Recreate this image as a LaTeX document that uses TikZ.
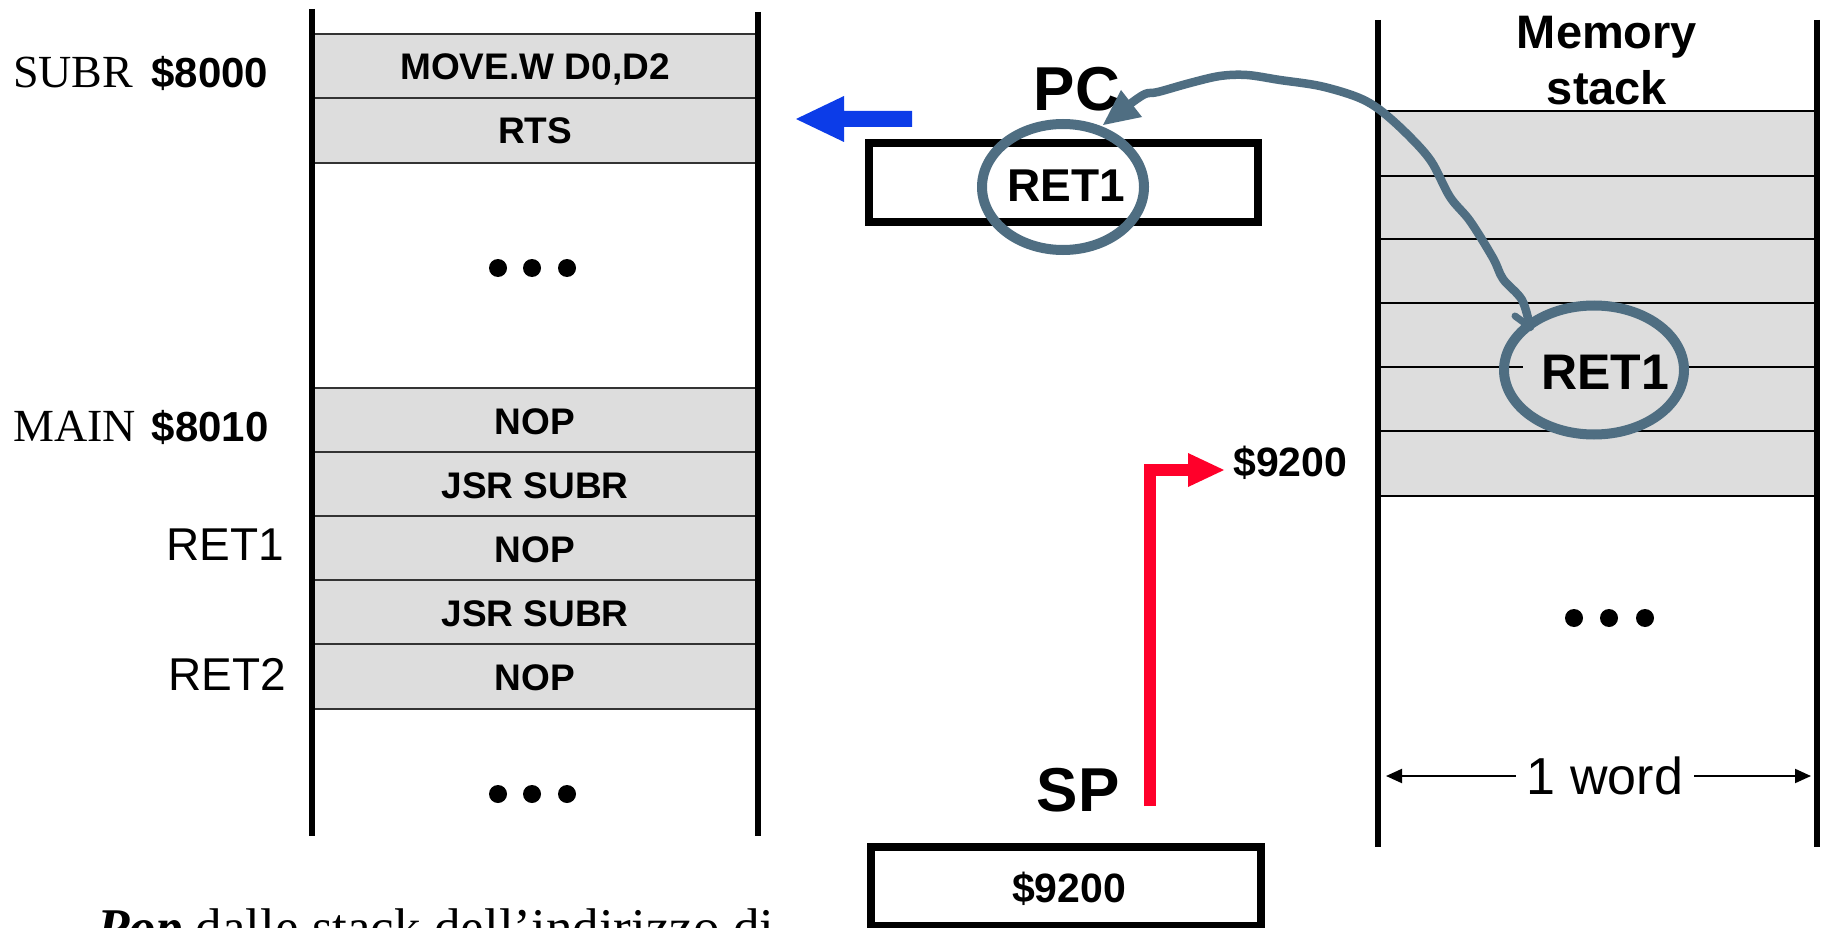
\documentclass[tikz,border=0pt]{standalone}
\usepackage{fontspec}
\setmainfont{Liberation Serif}
\setsansfont{Liberation Sans}
\newfontfamily\hv{Liberation Sans}
\usetikzlibrary{shapes.geometric,arrows.meta}
\definecolor{steel}{RGB}{79,110,130}
\definecolor{cellgray}{RGB}{221,221,221}
\definecolor{arrblue}{RGB}{12,60,232}
\definecolor{arrred}{RGB}{255,0,42}
\tikzset{
  cell/.style={font=\hv\bfseries\fontsize{37}{40}\selectfont, inner sep=0pt, anchor=base},
  side/.style={font=\hv\fontsize{46}{50}\selectfont, inner sep=0pt, anchor=base east},
  addr/.style={inner sep=0pt, anchor=base west},
  big/.style={font=\hv\bfseries\fontsize{62}{66}\selectfont, inner sep=0pt, anchor=base},
  regbox/.style={draw=black, line width=7.5pt, inner sep=0pt},
  rowsep/.style={line width=2pt, draw=black!80},
  wall/.style={line width=6.5pt, line cap=butt},
  ring/.style={ellipse, draw=steel, line width=10pt, inner sep=0pt},
  valtxt/.style={font=\hv\bfseries\fontsize{41}{45}\selectfont, inner sep=0pt}
}
\begin{document}
\begin{tikzpicture}[x=1pt,y=-1pt]
\useasboundingbox (0,0) rectangle (1826,928);
\clip (0,0) rectangle (1826,928);
\fill[white] (0,0) rectangle (1826,928);

% ---------- left memory column ----------
\fill[cellgray] (312,34) rectangle (758,163);
\fill[cellgray] (312,388) rectangle (758,709);
\foreach \y in {34,98,163,388,452,516,580,644,709}
  \draw[rowsep] (312,\y) -- (758,\y);
\draw[wall] (312,9) -- (312,836);
\draw[wall] (758,12) -- (758,836);

\node[cell] (c1) at (535,80) {MOVE.W D0,D2};
\node[cell] (c2) at (535,144) {RTS};
\node[cell] (c3) at (535,434) {NOP};
\node[cell] (c4) at (535,498) {JSR SUBR};
\node[cell] (c5) at (535,562) {NOP};
\node[cell] (c6) at (535,626) {JSR SUBR};
\node[cell] (c7) at (535,690) {NOP};

\foreach \x in {498,532,567} {
  \fill (\x,268) circle (9pt);
  \fill (\x,794) circle (9pt);
}

\node[addr] (subr) at (13,88) {\fontsize{46}{50}\selectfont SUBR\hspace{18pt}{\hv\bfseries\fontsize{42}{46}\selectfont\$8000}};
\node[addr] (main) at (13,441) {\fontsize{46}{50}\selectfont MAIN\hspace{16pt}{\hv\bfseries\fontsize{42}{46}\selectfont\$8010}};
\node[side] (ret1l) at (284,560) {RET1};
\node[side] (ret2l) at (286,690) {RET2};

% ---------- blue arrow ----------
\fill[arrblue] (912,111) -- (844,111) -- (844,96) -- (796,119) -- (844,142) -- (844,127) -- (912,127) -- cycle;

% ---------- PC register ----------
\node[big] (pc) at (1077,111) {PC};
\node[regbox, minimum width=389pt, minimum height=79pt] (pcbox) at (1063.5,182.5) {};
\node[font=\hv\bfseries\fontsize{46}{50}\selectfont, anchor=base, inner sep=0pt] (pcval) at (1066,202) {RET1};
\node[ring, minimum width=162pt, minimum height=126pt] (pcring) at (1063,187) {};

% ---------- SP register ----------
\node[big] (sp) at (1078,811) {SP};
\node[regbox, minimum width=390pt, minimum height=79pt] (spbox) at (1066,886.5) {};
\node[valtxt, anchor=base] (spval) at (1069,902) {\$9200};

% ---------- red arrow ----------
\coordinate (rbot) at (1150,806);
\coordinate (rtop) at (1150,470);
\coordinate (rend) at (1192,470);
\draw[arrred, line width=12pt, line join=miter] (rbot) -- (rtop) -- (rend);
\fill[arrred] (1188,453) -- (1224,470) -- (1188,487) -- cycle;
\node[valtxt, anchor=base west] (splbl) at (1233,476) {\$9200};

% ---------- memory stack ----------
\fill[cellgray] (1378,111) rectangle (1817,496);
\foreach \y in {111,176,239,303,367,431,496}
  \draw[line width=2pt] (1378,\y) -- (1817,\y);
\draw[wall] (1378,20) -- (1378,847);
\draw[wall] (1817,20) -- (1817,847);
\node[font=\hv\bfseries\fontsize{47}{54}\selectfont, anchor=base, inner sep=0pt] (mem1) at (1607,49) {Memory};
\node[font=\hv\bfseries\fontsize{47}{54}\selectfont, anchor=base, inner sep=0pt] (mem2) at (1607,105) {stack};

\node[fill=cellgray, font=\hv\bfseries\fontsize{50}{54}\selectfont, anchor=base, inner xsep=18pt, inner ysep=2pt] (sret) at (1605,389) {RET1};
\node[ring, minimum width=180pt, minimum height=129pt] (sring) at (1594,370) {};

\foreach \x in {1574,1609,1645}
  \fill (\x,618) circle (9pt);

\node[font=\hv\fontsize{52}{56}\selectfont, inner xsep=11pt, inner ysep=0pt] (word) at (1605,776) {1 word};
\coordinate (wl) at (1386,776);
\coordinate (wr) at (1811,776);
\draw[line width=2pt, -{Triangle[length=16pt,width=14pt]}] (word.west) -- (word.west -| wl);
\draw[line width=2pt, -{Triangle[length=16pt,width=14pt]}] (word.east) -- (word.east -| wr);

% ---------- curved arrow from stack to PC ----------
\coordinate (cstart) at (1530,327);
\draw[steel, line width=8.5pt, line cap=round, line join=round]
  plot[smooth, tension=0.55] coordinates {(1530,327) (1522,300) (1503,279) (1493,258) (1470,221) (1450,197) (1431,161) (1407,134) (1380,110) (1357,97) (1320,86) (1280,80) (1247,75) (1220,76) (1190,83) (1158,92) (1145,94) (1130,104)};
\draw[steel, line width=7pt, line cap=round] (1515,316) -- (cstart);
\fill[steel] (1103,125) -- (1121,90) -- (1142,117) -- cycle;

% ---------- caption (cut by the edge) ----------
\node[anchor=base west, inner sep=0pt, font=\fontsize{53}{58}\selectfont] (caption) at (97,945) {\textbf{\textit{Pop}} dalle stack dell’indirizzo di};
\end{tikzpicture}
\end{document}
